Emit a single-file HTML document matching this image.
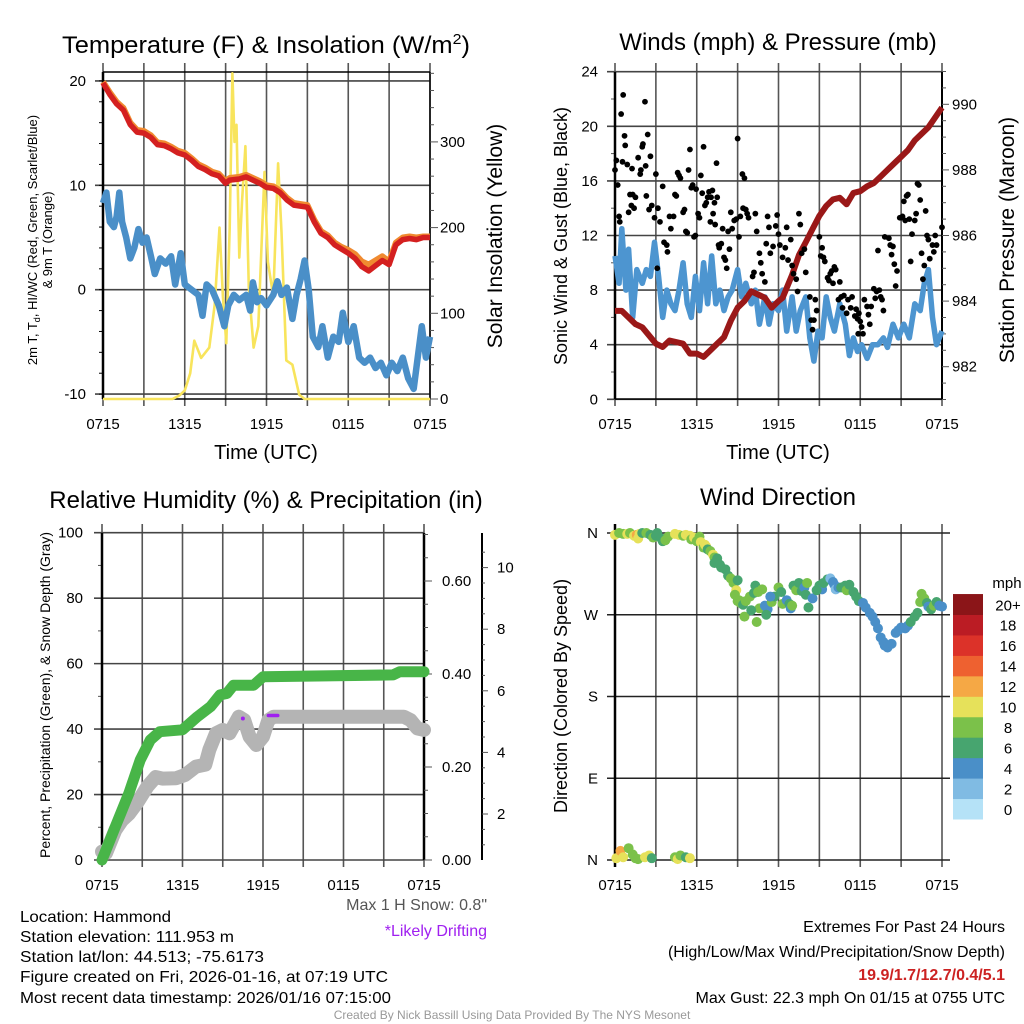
<!DOCTYPE html>
<html><head><meta charset="utf-8"><style>
html,body{margin:0;padding:0;background:#fff;}
svg{display:block;font-family:"Liberation Sans",sans-serif;}
text{fill:#000;}
</style></head><body>
<svg id="chart" width="1024" height="1024" viewBox="0 0 1024 1024" xmlns="http://www.w3.org/2000/svg">
<rect width="1024" height="1024" fill="#fff"/>
<text x="266" y="53" font-size="24" text-anchor="middle" textLength="408" lengthAdjust="spacingAndGlyphs">Temperature (F) &amp; Insolation (W/m<tspan font-size="15" dy="-9">2</tspan><tspan dy="9">)</tspan></text>
<text x="778" y="50" font-size="24" text-anchor="middle">Winds (mph) &amp; Pressure (mb)</text>
<text x="266" y="508" font-size="24" text-anchor="middle">Relative Humidity (%) &amp; Precipitation (in)</text>
<text x="778" y="505" font-size="24" text-anchor="middle">Wind Direction</text>
<text x="266" y="459" font-size="20" text-anchor="middle">Time (UTC)</text>
<text x="778" y="459" font-size="20" text-anchor="middle">Time (UTC)</text>
<text transform="translate(37,240) rotate(-90)" font-size="13" text-anchor="middle">2m T, T<tspan font-size="9" dy="3">d</tspan><tspan dy="-3">,  HI/WC (Red, Green, Scarlet/Blue)</tspan></text>
<text transform="translate(52,240) rotate(-90)" font-size="13" text-anchor="middle">&amp; 9m T (Orange)</text>
<text transform="translate(502,236) rotate(-90)" font-size="21" text-anchor="middle">Solar Insolation (Yellow)</text>
<text transform="translate(567,236) rotate(-90)" font-size="18" text-anchor="middle">Sonic Wind &amp; Gust (Blue, Black)</text>
<text transform="translate(1014,240) rotate(-90)" font-size="21" text-anchor="middle">Station Pressure (Maroon)</text>
<text transform="translate(50,695) rotate(-90)" font-size="14" text-anchor="middle">Percent, Precipitation (Green), &amp; Snow Depth (Gray)</text>
<text transform="translate(567,696) rotate(-90)" font-size="18" text-anchor="middle">Direction (Colored By Speed)</text>
<text x="487" y="910" font-size="16" style="fill:#555" text-anchor="end">Max 1 H Snow: 0.8"</text>
<text x="487" y="936" font-size="16" style="fill:#a020f0" text-anchor="end">*Likely Drifting</text>
<text x="20" y="922" font-size="16" textLength="151" lengthAdjust="spacingAndGlyphs">Location: Hammond</text>
<text x="20" y="942" font-size="16" textLength="214" lengthAdjust="spacingAndGlyphs">Station elevation: 111.953 m</text>
<text x="20" y="962" font-size="16" textLength="244" lengthAdjust="spacingAndGlyphs">Station lat/lon: 44.513; -75.6173</text>
<text x="20" y="982" font-size="16" textLength="368" lengthAdjust="spacingAndGlyphs">Figure created on Fri, 2026-01-16, at 07:19 UTC</text>
<text x="20" y="1003" font-size="16" textLength="371" lengthAdjust="spacingAndGlyphs">Most recent data timestamp: 2026/01/16 07:15:00</text>
<text x="1005" y="932" font-size="16" text-anchor="end">Extremes For Past 24 Hours</text>
<text x="1005" y="957" font-size="16" text-anchor="end">(High/Low/Max Wind/Precipitation/Snow Depth)</text>
<text x="1005" y="980" font-size="16" font-weight="bold" style="fill:#cc2222" text-anchor="end">19.9/1.7/12.7/0.4/5.1</text>
<text x="1005" y="1003" font-size="16" text-anchor="end">Max Gust: 22.3 mph On 01/15 at 0755 UTC</text>
<text x="512" y="1019" font-size="12" style="fill:#999" text-anchor="middle">Created By Nick Bassill Using Data Provided By The NYS Mesonet</text>
</svg>
<script>
// ---------- DATA ----------
const timeTicks = ['0715','1315','1915','0115','0715'];
const tempHours = [0,0.5,1,1.5,2,2.5,3,3.5,4,4.5,5,5.5,6,6.5,7,7.5,8,8.5,9,9.3,10,10.5,11,11.5,12,12.5,13,13.5,14,14.5,15,15.5,16,16.5,17,17.5,18,18.5,19,19.5,20,20.5,21,21.5,22,22.5,23,23.5,24];
const tempRed = [19.8,18.7,17.8,17.2,15.8,15.1,15.0,14.6,13.9,13.8,13.5,13.1,12.9,12.4,11.8,11.5,11.1,10.9,10.2,10.5,10.6,10.8,10.5,10.2,9.8,9.7,9.3,8.6,8.1,8.0,7.9,6.5,5.4,5.0,4.3,3.9,3.5,3.0,2.2,1.8,2.3,2.8,2.4,4.3,4.8,4.9,4.8,5.0,5.0];
const tempOrange = [19.9,18.9,18.0,17.4,16.0,15.3,15.2,14.8,14.1,14.0,13.7,13.3,13.1,12.6,12.0,11.7,11.3,11.1,10.4,10.7,10.8,11.0,10.7,10.4,10.0,9.9,9.5,8.8,8.3,8.2,8.1,6.7,5.6,5.2,4.5,4.1,3.8,3.4,2.7,2.4,2.8,3.2,2.7,4.5,5.0,5.1,5.0,5.1,5.1];
const dewHours = [0,0.25,0.5,0.8,1.0,1.2,1.4,1.7,2.0,2.3,2.6,2.9,3.2,3.5,3.8,4.2,4.6,5.0,5.3,5.7,6.0,6.5,7.0,7.3,7.6,8.0,8.5,8.9,9.2,9.6,10.0,10.5,10.8,11.0,11.3,11.6,12.0,12.5,12.8,13.1,13.5,13.9,14.2,14.5,14.8,15.1,15.4,15.8,16.1,16.5,16.9,17.3,17.6,18.0,18.4,18.8,19.2,19.6,20.0,20.4,20.8,21.2,21.6,22.0,22.4,22.8,23.1,23.4,23.7,24.0];
const dewBlue = [8.3,9.3,6.5,6.0,7.0,9.3,6.5,5.0,3.0,4.0,5.8,4.5,5.0,3.3,1.5,3.0,2.5,3.2,0.5,3.5,0.5,0.0,-0.5,-2.5,0.5,0.0,-1.5,-3.5,-1.5,-0.5,-1.0,-0.5,-2.0,0.7,-1.2,-0.8,-1.5,-0.5,0.8,-0.5,0.2,-2.8,-0.5,1.0,2.8,0.0,-4.5,-5.5,-3.5,-6.5,-4.5,-5.0,-2.2,-5.0,-3.5,-6.5,-7.0,-6.5,-7.5,-7.0,-8.2,-7.0,-7.8,-6.5,-8.5,-9.5,-6.5,-3.5,-6.5,-4.5];
const solarHours = [0,5.1,5.6,6.0,6.4,6.7,7.2,7.8,8.2,8.55,8.8,9.05,9.3,9.5,9.65,9.8,10.0,10.2,10.45,10.7,11.05,11.4,11.85,12.1,12.5,12.85,13.1,13.45,13.9,14.4,14.8,24];
const solarVals = [0,0,4,10,30,68,48,60,110,200,120,65,200,380,300,320,165,230,295,130,60,85,265,160,120,275,195,45,40,5,0,0];
const windHours = [0,0.3,0.5,0.8,1.0,1.3,1.6,2.0,2.3,2.6,2.9,3.2,3.5,3.8,4.1,4.4,4.7,5.0,5.3,5.6,5.9,6.2,6.5,6.8,7.1,7.4,7.7,8.0,8.3,8.6,9.0,9.3,9.6,10.0,10.3,10.6,11.0,11.3,11.6,12.0,12.3,12.6,13.0,13.3,13.6,14.0,14.3,14.6,14.9,15.2,15.5,15.8,16.1,16.5,16.9,17.2,17.5,17.8,18.1,18.5,18.9,19.3,19.7,20.0,20.4,20.8,21.2,21.6,22.0,22.4,22.7,23.0,23.3,23.6,24.0];
const windBlue = [10.5,8.5,12.5,8.0,11.0,6.0,9.5,8.5,9.5,9.0,11.5,9.0,6.0,8.0,7.0,6.5,8.0,10.0,7.0,6.0,9.0,6.5,10.0,7.0,10.5,7.0,8.0,6.5,7.5,8.0,9.5,7.5,8.5,7.0,8.0,5.5,7.5,5.5,7.0,6.5,8.0,5.0,7.5,5.0,6.5,7.5,4.5,2.8,5.0,4.5,7.5,6.0,5.0,7.0,5.5,3.2,4.5,3.5,4.0,3.0,4.0,4.0,4.5,3.8,5.5,4.5,5.5,4.5,7.0,6.5,8.5,9.5,6.0,4.0,5.0];
const presHours = [0,0.5,1,1.5,2,3,3.5,4,5,5.5,6,6.5,7,7.5,8,8.5,9,9.5,10,10.5,11,11.5,12,12.3,13,13.5,14,14.5,15,15.5,16,16.5,17,17.5,18,18.5,19,19.5,20,20.5,21,21.5,22,22.5,23,23.5,24];
const presVals = [983.7,983.7,983.5,983.3,983.2,982.7,982.6,982.8,982.7,982.4,982.4,982.3,982.5,982.7,982.9,983.4,983.8,984.0,984.3,984.2,984.1,983.8,984.0,984.1,984.8,985.4,985.8,986.2,986.6,986.9,987.1,987.15,986.95,987.3,987.35,987.5,987.6,987.8,988.0,988.2,988.4,988.6,988.9,989.1,989.3,989.6,989.9];
const gustHours = [0,0.1,0.2,0.3,0.35,0.45,0.6,0.55,0.7,0.75,0.9,1.1,1.0,1.2,1.3,1.4,1.5,1.25,1.7,1.85,1.9,2.0,2.05,2.2,2.25,2.3,2.4,2.5,2.6,2.7,2.9,3.0,3.1,3.15,3.3,3.5,3.6,3.8,3.85,4.0,4.1,4.3,4.4,4.5,4.6,4.7,4.8,5.0,5.1,5.2,5.3,5.4,5.5,5.6,5.7,5.8,5.9,5.95,6.1,6.2,6.3,6.4,6.5,6.6,6.7,6.8,6.9,7.0,7.05,7.15,7.2,7.3,7.35,7.45,7.5,7.6,7.65,7.8,7.9,8.0,8.1,8.2,8.3,8.4,8.5,8.6,8.75,8.9,9.0,9.1,9.2,9.35,9.5,9.4,9.6,9.7,9.8,10.1,10.2,10.3,10.4,10.6,10.7,10.8,11.0,11.1,11.2,11.3,11.4,11.6,11.8,11.9,12.0,12.1,12.3,12.5,12.6,12.7,12.9,13.0,13.1,13.3,13.4,13.5,13.6,13.7,13.9,14.0,14.3,14.4,14.5,14.6,14.7,14.8,15.0,15.1,15.2,15.3,15.4,15.6,15.7,15.8,15.9,16.0,16.1,16.2,16.4,16.5,16.6,16.7,16.8,17.0,17.1,17.3,17.4,17.6,17.7,17.8,17.85,17.9,18.0,18.1,18.2,18.3,18.5,18.6,18.7,18.8,19.0,19.1,19.2,19.3,19.4,19.5,19.6,19.7,19.8,20.1,20.2,20.3,20.4,20.5,20.6,20.7,20.9,21.0,21.1,21.2,21.3,21.4,21.5,21.6,21.7,21.8,22.0,22.1,22.2,22.3,22.4,22.5,22.6,22.7,22.8,22.9,23.0,23.1,23.3,23.4,23.5,23.6,24.0];
const gustVals = [16.8,17.5,15.7,13.4,13.0,20.9,22.3,17.4,19.3,18.6,17.2,15.0,13.7,14.2,15.0,14.0,14.8,16.9,17.7,16.5,16.8,18.5,18.7,21.8,17.1,14.9,19.4,13.9,17.8,14.2,13.3,16.5,9.6,14.0,13.0,15.6,11.5,11.3,10.8,13.4,12.5,13.4,15.0,14.9,16.6,16.4,16.2,13.7,13.9,12.3,12.2,16.8,18.3,15.5,15.7,11.9,12.0,15.4,13.6,13.3,16.4,15.1,18.5,14.2,14.4,14.8,15.2,13.0,14.8,15.3,13.6,14.4,12.8,17.3,14.8,11.3,11.1,11.4,12.5,10.4,10.2,9.6,12.3,11.0,13.7,12.5,13.1,13.2,19.1,11.9,13.4,16.5,16.2,14.0,13.9,13.6,13.3,9.0,9.3,13.6,12.3,10.7,10.0,9.2,8.6,11.4,13.4,12.6,10.7,11.2,12.7,13.5,12.1,11.3,10.4,11.1,12.6,10.2,11.7,9.8,9.2,8.8,7.9,13.6,12.8,10.7,11.0,9.3,7.5,5.8,5.1,5.8,7.3,6.5,11.9,10.5,11.1,10.4,10.1,8.9,8.7,9.2,9.4,8.5,9.7,9.5,7.3,8.6,7.5,6.7,7.6,6.3,7.3,6.7,7.5,6.1,6.6,5.9,4.8,6.3,5.7,5.3,4.8,7.3,6.8,6.2,5.5,6.8,8.1,7.4,7.9,10.9,8.0,7.5,7.3,6.5,11.9,11.8,11.3,10.6,11.2,9.9,8.3,9.4,13.3,13.3,13.4,14.5,13.1,14.9,15.0,13.2,10.1,12.1,13.1,13.6,15.8,15.7,14.6,10.7,8.8,9.8,13.8,12.0,11.7,10.3,11.3,10.8,12.0,11.3,12.6];
const precipHours = [0,1,2,2.85,3.6,4.3,6.0,7.1,8.1,8.8,9.3,9.8,11.3,12.0,21.7,22.2,24];
const precipVals = [0,0.072,0.143,0.215,0.258,0.276,0.28,0.308,0.33,0.355,0.358,0.376,0.376,0.394,0.398,0.405,0.405];
const snowHours = [0,0.3,1,1.5,2,2.6,3.4,4,4.5,5.5,6.2,7,7.7,8,8.5,9,9.5,10.2,10.6,11.0,11.5,12,12.4,12.8,22.5,23,23.5,24];
const snowVals = [0.78,0.73,1.48,1.8,2.0,2.35,2.9,3.2,3.15,3.16,3.27,3.54,3.6,4.08,4.62,4.73,4.62,5.16,5.05,4.51,4.24,4.51,5.05,5.16,5.16,5.05,4.78,4.73];
const driftHours = [10.5,12.4,13.1];
const driftVals = [5.1,5.2,5.2];
const dirHours = [0,0.3,0.6,0.9,1.1,1.4,1.6,1.8,1.7,2.0,2.3,2.6,2.8,3.0,3.1,3.4,3.5,3.7,3.9,4.4,4.7,5.0,5.2,5.5,5.6,5.8,6.0,6.2,6.3,6.5,6.6,6.7,6.8,7.0,7.2,7.3,7.5,7.3,7.7,7.8,8.1,8.3,8.5,8.7,8.9,9.0,9.1,8.8,9.0,9.2,9.4,9.6,9.9,10.2,10.3,10.5,10.8,10.6,11.0,11.2,11.5,11.7,12.0,12.3,12.6,12.8,12.9,13.1,13.3,13.5,13.7,13.9,14.1,14.0,14.5,14.2,15.0,15.2,15.3,15.6,15.8,16.0,16.1,16.2,16.4,16.6,16.9,17.0,17.2,17.5,17.7,17.9,18.2,18.4,18.7,18.9,19.1,19.3,19.5,19.7,19.8,20.0,20.3,20.6,20.8,21.0,21.3,21.5,21.7,22.0,22.2,22.4,22.5,22.7,22.9,23.0,23.2,23.4,23.6,23.8,24.0,
 0.1,0.4,0.6,1.0,1.3,1.5,1.7,2.2,2.5,2.7,4.4,4.6,4.8,5.2,5.5,
 9.5,10.0,10.4,11.1,11.4,12.2,13.0,14.8];
const dirVals = [358,360,359,359,360,357,358,359,354,360,360,358,355,357,360,354,351,352,356,359,358,357,358,357,353,355,351,356,350,344,347,345,342,340,336,333,332,327,325,322,320,313,310,305,297,308,286,292,285,283,281,285,290,294,302,295,298,277,280,276,284,290,300,282,286,282,277,302,297,305,296,300,305,292,288,278,302,298,305,309,310,306,303,298,300,300,302,297,303,295,290,285,283,278,272,268,262,255,245,240,236,234,238,250,253,256,255,258,262,268,272,284,293,288,283,279,276,280,284,280,279,
 2,10,3,13,6,2,1,3,5,2,3,1,5,3,2,
 268,275,262,270,290,295,280,297];
const dirSpeeds = [10,8,8,10,8,10,12,11,10,7,8,7,8,6,7,7,6,8,8,10,10,9,10,10,8,10,8,8,10,8,10,10,7,8,10,8,7,6,6,7,6,7,8,8,10,7,8,8,8,8,7,8,8,6,6,8,8,8,5,4,8,6,8,8,5,6,4,6,8,7,6,5,8,6,5,6,6,5,7,6,3,4,5,2,4,6,6,8,7,6,6,6,5,4,4,4,4,4,4,4,4,4,4,4,4,4,4,5,6,6,7,8,8,8,6,5,6,8,6,4,5,
 10,12,10,8,8,8,8,10,10,6,8,10,8,6,10,
 8,6,8,7,4,6,8,6];
const cbarLabels = ['0','2','4','6','8','10','12','14','16','18','20+'];
const cbarColors = ['#b5e2f7','#80bbe3','#4a8fc8','#47a56f','#7bc14a','#e6e15a','#f5a845','#ee6130','#dc3229','#bb1c24','#8b1518'];

// ---------- HELPERS ----------
const NS='http://www.w3.org/2000/svg';
const svg=document.getElementById('chart');
function mk(tag,attrs,parent){const e=document.createElementNS(NS,tag);for(const k in attrs)e.setAttribute(k,attrs[k]);(parent||svg).appendChild(e);return e;}
function pathD(xs,ys){return xs.map((x,i)=>(i?'L':'M')+x.toFixed(1)+' '+ys[i].toFixed(1)).join(' ');}
function grp(name){const g=mk('g',{});return g;}
function line(g,x1,y1,x2,y2,st,w,name){const l=mk('line',{x1:x1,y1:y1,x2:x2,y2:y2,stroke:st,'stroke-width':w},g);return l;}
function label(g,x,y,txt,anchor,size,name){const t=mk('text',{x:x,y:y,'font-size':size,'text-anchor':anchor},g);t.textContent=txt;return t;}
function speedColor(s){let i=Math.floor(s/2);if(i>10)i=10;if(i<0)i=0;return cbarColors[i];}

const P1={x0:103,x1:430,top:72,bot:399};
const P2={x0:615,x1:942,top:72,bot:399};
const P3={x0:102,x1:424,top:533,bot:860};
const P4={x0:615,x1:942,top:533,bot:860};
const xh=(P,h)=>P.x0+h*(P.x1-P.x0)/24;
const yT=v=>289.7-v*10.44;
const yS=v=>399-v*0.857;
const yW=v=>399.3-v*13.65;
const yP=v=>104.3+(990-v)*32.8;
const yPct=v=>860-v*3.273;
const yPr=v=>860-v*465;
const ySn=v=>875.6-v*30.8;
const yD=d=>860-d*(327/360);

function vgrid(P,name,labY){
  const g=grp(name);
  for(let i=0;i<=8;i++){const x=P.x0+i*(P.x1-P.x0)/8;line(g,x,P.top-9,x,P.bot+7,'#555',1.6,'vertical-gridline');}
  timeTicks.forEach((t,i)=>{label(g,P.x0+i*(P.x1-P.x0)/4,labY,t,'middle',15,'x-tick-label');});
}

// ---------- PANEL 1 ----------
(function(){
  const P=P1;
  vgrid(P,'temp-x-grid',429);
  const g=grp('temp-y-axis');
  [-10,0,10,20].forEach(v=>{line(g,P.x0-8,yT(v),P.x1,yT(v),'#444',1.6,'y-gridline');label(g,P.x0-17,yT(v)+5,String(v),'end',15,'y-tick-label');});
  for(let v=-10;v<=20;v+=2){line(g,P.x0-4,yT(v),P.x0,yT(v),'#000',1,'y-minor-tick');}
  line(g,P.x0,P.top,P.x1,P.top,'#000',1.5,'frame-top');
  line(g,P.x0,P.bot,P.x1,P.bot,'#000',1.5,'frame-bottom');
  line(g,P.x0,P.top,P.x0,P.bot,'#000',2.5,'y-axis-line');
  line(g,P.x1,P.top,P.x1,P.bot,'#000',1.5,'y2-axis-line');
  const g2=grp('solar-axis');
  for(let v=0;v<=380;v+=20){line(g2,P.x1,yS(v),P.x1+(v%100===0?8:4),yS(v),'#555',1,'y2-tick');}
  [0,100,200,300].forEach(v=>label(g2,P.x1+10,yS(v)+5,String(v),'start',15,'y2-tick-label'));
  const s=mk('path',{d:pathD(solarHours.map(h=>xh(P,h)),solarVals.map(yS)),fill:'none',stroke:'#f8e45c','stroke-width':2.6,'stroke-linejoin':'round'});
  
  
  const d=mk('path',{d:pathD(dewHours.map(h=>xh(P,h)),dewBlue.map(yT)),fill:'none',stroke:'#4a8fc8','stroke-width':6.5,'stroke-linejoin':'round'});
  
  
  const o=mk('path',{d:pathD(tempHours.map(h=>xh(P,h)),tempOrange.map(yT)),fill:'none',stroke:'#f08a30','stroke-width':6,'stroke-linejoin':'round'});
  
  
  const r=mk('path',{d:pathD(tempHours.map(h=>xh(P,h)),tempRed.map(yT)),fill:'none',stroke:'#d42020','stroke-width':5.5,'stroke-linejoin':'round'});
  
  
})();

// ---------- PANEL 2 ----------
(function(){
  const P=P2;
  vgrid(P,'wind-x-grid',429);
  const g=grp('wind-y-axis');
  for(let v=0;v<=24;v+=4){line(g,P.x0-8,yW(v),P.x1,yW(v),'#444',1.6,'y-gridline');label(g,P.x0-17,yW(v)+5,String(v),'end',15,'y-tick-label');}
  for(let v=2;v<=22;v+=4){line(g,P.x0-4,yW(v),P.x0,yW(v),'#555',1,'y-minor-tick');}
  line(g,P.x0,P.bot,P.x1,P.bot,'#000',1.5,'frame-bottom');
  line(g,P.x0,P.top,P.x0,P.bot,'#000',2.5,'y-axis-line');
  line(g,P.x1,P.top,P.x1,P.bot,'#000',2,'y2-axis-line');
  const g2=grp('pressure-axis');
  for(let v=981;v<=991;v+=0.5){line(g2,P.x1,yP(v),P.x1+(v%2===0?7:4),yP(v),'#555',1,'y2-tick');}
  [982,984,986,988,990].forEach(v=>label(g2,P.x1+10,yP(v)+5,String(v),'start',15,'y2-tick-label'));
  const b=mk('path',{d:pathD(windHours.map(h=>xh(P,h)),windBlue.map(yW)),fill:'none',stroke:'#4d95d0','stroke-width':5.5,'stroke-linejoin':'round'});
  
  
  const p=mk('path',{d:pathD(presHours.map(h=>xh(P,h)),presVals.map(yP)),fill:'none',stroke:'#9a1818','stroke-width':6,'stroke-linejoin':'round'});
  
  
  const gd=grp('gust-points');
  gustHours.forEach((h,i)=>{const c=mk('circle',{cx:xh(P,h),cy:yW(gustVals[i]),r:2.9,fill:'#000'},gd);
    
    });
})();

// ---------- PANEL 3 ----------
(function(){
  const P=P3;
  vgrid(P,'humidity-x-grid',890);
  const g=grp('humidity-y-axis');
  for(let v=0;v<=100;v+=20){line(g,P.x0-8,yPct(v),P.x1,yPct(v),'#444',1.6,'y-gridline');label(g,P.x0-19,yPct(v)+5,String(v),'end',15,'y-tick-label');}
  for(let v=10;v<=90;v+=20){line(g,P.x0-4,yPct(v),P.x0,yPct(v),'#555',1,'y-minor-tick');}
  line(g,P.x0,P.top,P.x0,P.bot,'#000',2.5,'y-axis-line');
  line(g,P.x1,P.top,P.x1,P.bot,'#000',2.5,'y2-axis-line');
  const g2=grp('precip-axis');
  for(let k=0;k<=14;k++){const v=k*0.05;line(g2,P.x1,yPr(v),P.x1+(k%4===0?8:4),yPr(v),'#555',1,'y2-tick');}
  [0,0.2,0.4,0.6].forEach(v=>label(g2,P.x1+18,yPr(v)+5,v.toFixed(2),'start',15,'y2-tick-label'));
  const g3=grp('snow-depth-axis');
  line(g3,482,P.top,482,P.bot,'#000',2,'y3-axis-line');
  for(let v=1;v<=10.6;v+=0.5){line(g3,482,ySn(v),482+(v%2===0?6:3),ySn(v),'#555',1,'y3-tick');}
  [2,4,6,8,10].forEach(v=>label(g3,497,ySn(v)+5,String(v),'start',15,'y3-tick-label'));
  const sn=mk('path',{d:pathD(snowHours.map(h=>xh(P,h)),snowVals.map(ySn)),fill:'none',stroke:'#b4b4b4','stroke-width':14,'stroke-linejoin':'round','stroke-linecap':'round'});
  
  
  const pr=mk('path',{d:pathD(precipHours.map(h=>xh(P,h)),precipVals.map(yPr)),fill:'none',stroke:'#48b548','stroke-width':11,'stroke-linejoin':'round','stroke-linecap':'round'});
  
  
  const dr1=mk('circle',{cx:xh(P,driftHours[0]),cy:ySn(driftVals[0]),r:2,fill:'#a020f0'});
  
  
  const dr2=mk('line',{x1:xh(P,driftHours[1]),y1:ySn(driftVals[1]),x2:xh(P,driftHours[2]),y2:ySn(driftVals[2]),stroke:'#a020f0','stroke-width':3.5,'stroke-linecap':'round'});
  
  
})();

// ---------- PANEL 4 ----------
(function(){
  const P=P4;
  vgrid(P,'direction-x-grid',890);
  const g=grp('direction-y-axis');
  [['N',0],['E',90],['S',180],['W',270],['N',360]].forEach(a=>{line(g,P.x0-8,yD(a[1]),P.x1+8,yD(a[1]),'#222',1.6,'y-gridline');label(g,P.x0-17,yD(a[1])+5,a[0],'end',15,'y-tick-label');});
  line(g,P.x0,P.top-9,P.x0,P.bot+7,'#000',2.5,'y-axis-line');
  const gp=grp('direction-points');
  dirHours.forEach((h,i)=>{const c=mk('circle',{cx:xh(P,h),cy:yD(dirVals[i]),r:5,fill:speedColor(dirSpeeds[i])},gp);
    
    });
  const cb=grp('speed-colorbar');
  const h=20.45;
  cbarColors.forEach((c,i)=>{const y=819-(i+1)*h;const r=mk('rect',{x:953,y:y,width:30,height:h+0.5,fill:c},cb);
    
    
    label(cb,1008,y+h/2+6,cbarLabels[i],'middle',15,'colorbar-label');});
  label(cb,1007,588,'mph','middle',15,'colorbar-title');
})();
</script>
</body></html>
